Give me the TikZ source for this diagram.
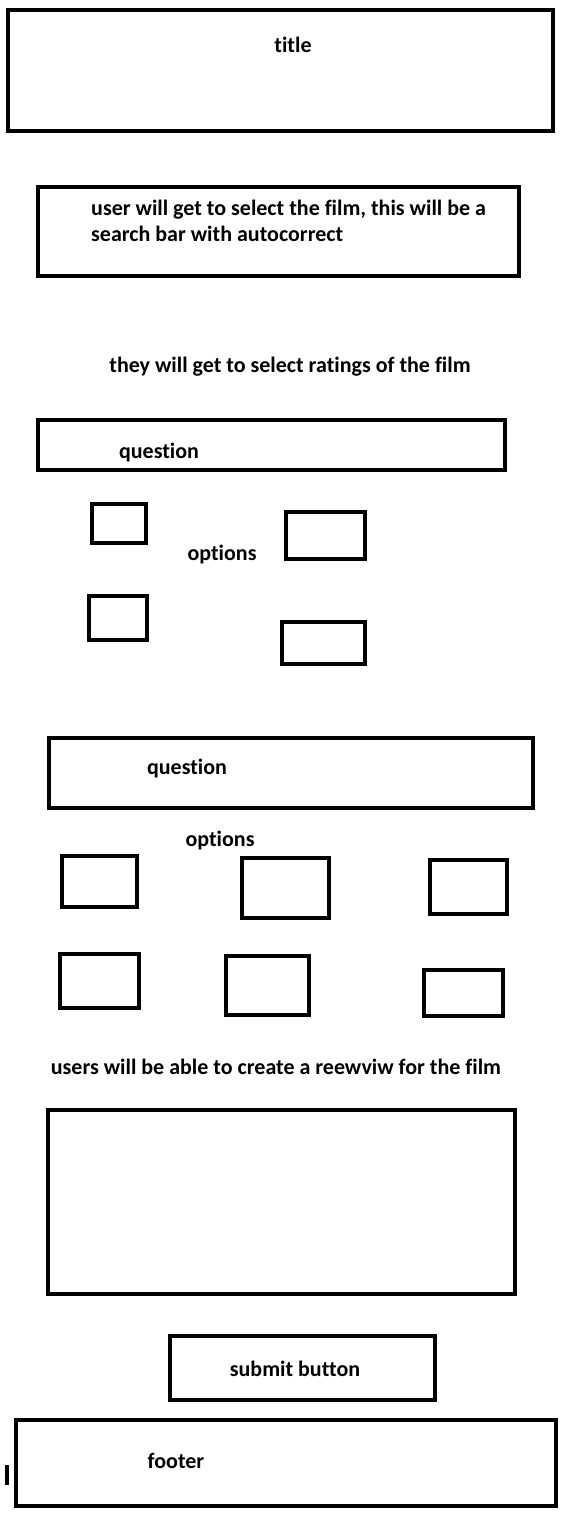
\documentclass[tikz,border=0pt]{standalone}
\usepackage{fontspec}
\setmainfont[Ligatures=NoCommon]{Carlito}
\begin{document}
\begin{tikzpicture}[x=1pt, y=-1pt]
% Estilos
\tikzstyle{box} = [rectangle, draw=black, line width=4.5pt, inner sep=0pt]
\tikzstyle{label} = [font=\fontsize{22}{26}\selectfont\bfseries, inner sep=0pt]

\useasboundingbox[fill=white] (0,0) rectangle (562,1514);

% Cabecera
\node[box, minimum width=545, minimum height=121] (title_box) at (280.5,70.5) {};
\node[label] (title_text) at (293,45) {title};

% Buscador
\node[box, minimum width=481, minimum height=89] (search_box) at (278.5,231.5) {};
\node[label, anchor=west, align=left] (search_text) at (91,221) {user will get to select the film, this will be a\\search bar with autocorrect};

\node[label] (ratings_text) at (290,367) {they will get to select ratings of the film};

% Primera pregunta
\node[box, minimum width=467, minimum height=50] (question1_box) at (271.5,445) {};
\node[label] (question1_text) at (159,453) {question};
\node[label] (options1_text) at (222,555) {options};
\node[box, minimum width=54, minimum height=39] (opt1a) at (119,523.5) {};
\node[box, minimum width=79, minimum height=47] (opt1b) at (325.5,535.5) {};
\node[box, minimum width=58, minimum height=44] (opt1c) at (118,618) {};
\node[box, minimum width=83, minimum height=42] (opt1d) at (323.5,643) {};

% Segunda pregunta
\node[box, minimum width=484, minimum height=70] (question2_box) at (291,773) {};
\node[label] (question2_text) at (187,769) {question};
\node[label] (options2_text) at (220,841) {options};
\node[box, minimum width=75, minimum height=51] (opt2a) at (99.5,881.5) {};
\node[box, minimum width=87, minimum height=60] (opt2b) at (285.5,888) {};
\node[box, minimum width=77, minimum height=54] (opt2c) at (468.5,887) {};
\node[box, minimum width=79, minimum height=54] (opt2d) at (99.5,981) {};
\node[box, minimum width=83, minimum height=59] (opt2e) at (267.5,985.5) {};
\node[box, minimum width=79, minimum height=46] (opt2f) at (463.5,993) {};

% Review
\node[label] (review_text) at (276,1067) {users will be able to create a reewviw for the film};
\node[box, minimum width=467, minimum height=184] (review_box) at (281.5,1202) {};

% Boton y pie
\node[box, minimum width=265, minimum height=64] (submit_box) at (302.5,1368) {};
\node[label] (submit_text) at (295,1369) {submit button};
\node[box, minimum width=540, minimum height=86] (footer_box) at (286,1463) {};
\node[label] (footer_text) at (176,1461) {footer};

% Marca suelta
\draw[line width=4.5pt] (7,1465) -- (7,1485);
\end{tikzpicture}
\end{document}
